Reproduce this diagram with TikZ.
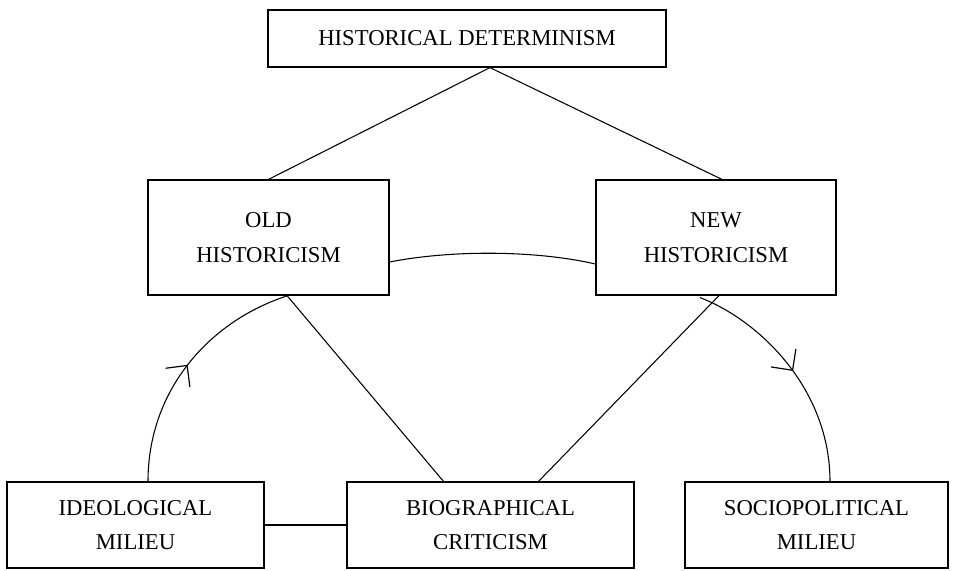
\documentclass[tikz,border=0pt]{standalone}
\usepackage{fontspec}
\setmainfont{Liberation Serif}
\usetikzlibrary{calc,arrows.meta,decorations.markings}
\begin{document}
\begin{tikzpicture}[x=0.75pt,y=-0.75pt,
  box/.style={draw,line width=0.9pt,align=center,inner sep=0pt,
    font=\fontsize{17}{26}\selectfont},
  link/.style={line width=0.8pt},
  midarrow/.style={postaction={decorate},decoration={markings,
    mark=at position 0.5 with {\draw[line width=0.9pt] (-11.5pt,11.5pt) -- (0pt,0pt) -- (-11.5pt,-11.5pt);}}}
]
\useasboundingbox (0,0) rectangle (972,571);
\node[box,minimum width=398*0.75pt,minimum height=57*0.75pt] (HD) at (467,38.5) {HISTORICAL DETERMINISM};
\node[box,minimum width=241*0.75pt,minimum height=115*0.75pt] (OH) at (268.5,237.5) {OLD\\HISTORICISM};
\node[box,minimum width=240*0.75pt,minimum height=115*0.75pt] (NH) at (716,237.5) {NEW\\HISTORICISM};
\node[box,minimum width=257*0.75pt,minimum height=86*0.75pt] (IM) at (135.5,525) {IDEOLOGICAL\\MILIEU};
\node[box,minimum width=287*0.75pt,minimum height=86*0.75pt] (BC) at (490.5,525) {BIOGRAPHICAL\\CRITICISM};
\node[box,minimum width=263*0.75pt,minimum height=86*0.75pt] (SM) at (816.5,525) {SOCIOPOLITICAL\\MILIEU};

\coordinate (HDb) at ($(HD.south)+(23,0)$);
\draw[link] (HDb) -- (OH.north);
\draw[link] (HDb) -- ($(NH.north)+(6,0)$);
\draw[link] ($(OH.south)+(18.5,0)$) -- ($(BC.north)+(-47,0)$);
\draw[link] ($(NH.south)+(3,0)$) -- ($(BC.north)+(48,0)$);
\draw[link] (IM.east) -- (BC.west);
\draw[link] ($(OH.east)+(0,24.5)$) .. controls +(61,-12) and +(-61,-14) .. ($(NH.west)+(0,26.5)$);
\draw[link,midarrow] ($(IM.north)+(12.5,0)$) .. controls +(0,-92) and +(-78,25) .. ($(OH.south)+(19.5,0)$);
\draw[link,midarrow] ($(NH.south)+(-16,2)$) .. controls +(60,23) and +(0,-92) .. ($(SM.north)+(13.5,0)$);
\end{tikzpicture}
\end{document}
